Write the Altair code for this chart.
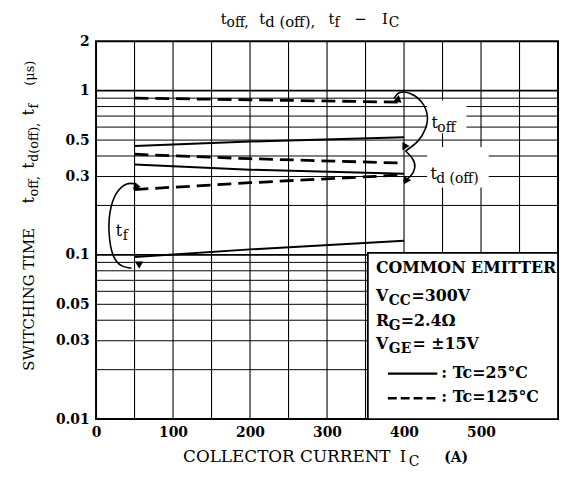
import altair as alt
import pandas as pd

FONT = "DejaVu Serif"
W, H = 467, 382
OX, OY = 97, 39  # page position of plot origin

# ---- data ----
ic = [50, 200, 400]
toff_25 = [0.46, 0.49, 0.52]
toff_125 = [0.90, 0.88, 0.85]
tdoff_25 = [0.355, 0.33, 0.312]
tdoff_125 = [0.41, 0.385, 0.362]
tf_25 = [0.097, 0.108, 0.122]
tf_125 = [0.25, 0.275, 0.307]

x_grid = [50, 100, 150, 200, 250, 300, 350, 400, 450, 500, 550]
y_grid_minor = [0.02, 0.03, 0.04, 0.05, 0.06, 0.07, 0.08, 0.09,
                0.2, 0.3, 0.4, 0.5, 0.6, 0.7, 0.8, 0.9]
y_grid_major = [0.1, 1.0]
x_ticks = [0, 100, 200, 300, 400, 500]
y_ticks = [0.01, 0.03, 0.05, 0.1, 0.3, 0.5, 1, 2]

# annotation arcs (data units)
arc_toff_x = [387, 394.5, 408, 422, 430, 428, 418, 402]
arc_toff_y = [0.895, 0.973, 0.96, 0.863, 0.717, 0.59, 0.493, 0.429]
arc_td_x = [402, 411, 414, 408, 399]
arc_td_y = [0.429, 0.385, 0.34, 0.30, 0.282]
arc_tf_x = [52, 40, 26, 18, 17, 22, 33, 46]
arc_tf_y = [0.27, 0.27, 0.235, 0.18, 0.135, 0.10, 0.086, 0.083]
arrow_x = [392, 401, 403, 52, 56]
arrow_y = [0.88, 0.46, 0.285, 0.262, 0.088]
arrow_angle = [250, 330, 330, 100, 60]

xs = alt.Scale(domain=[0, 600], nice=False, zero=False)
ys = alt.Scale(type="log", domain=[0.01, 2], nice=False)

rows = []
for name, temp, vals in [("toff", "25", toff_25), ("toff", "125", toff_125),
                         ("td", "25", tdoff_25), ("td", "125", tdoff_125),
                         ("tf", "25", tf_25), ("tf", "125", tf_125)]:
    for i, (x, y) in enumerate(zip(ic, vals)):
        rows.append({"curve": name + temp, "temp": temp, "ic": x, "t": y, "i": i})
curves = pd.DataFrame(rows)

xaxis = alt.Axis(values=x_ticks, labelFont=FONT, labelFontWeight="bold", labelFontSize=14,
                 labelColor="black", ticks=False, domain=False, grid=False, title=None,
                 labelPadding=7, labelFlush=False, labelExpr="datum.value")
yaxis = alt.Axis(values=y_ticks, labelFont=FONT, labelFontWeight="bold", labelFontSize=14,
                 labelColor="black", ticks=False, domain=False, grid=False, title=None,
                 labelPadding=7, labelExpr="'' + datum.value", labelFlush=False)

base_axes = alt.Chart(pd.DataFrame({"ic": [0, 600], "t": [0.01, 2]})).mark_point(opacity=0).encode(
    x=alt.X("ic:Q", scale=xs, axis=xaxis),
    y=alt.Y("t:Q", scale=ys, axis=yaxis),
)

vgrid = alt.Chart(pd.DataFrame({"ic": x_grid})).mark_rule(color="black", strokeWidth=1.1).encode(
    x=alt.X("ic:Q", scale=xs), y=alt.value(0), y2=alt.value(H))
hgrid = alt.Chart(pd.DataFrame({"t": y_grid_minor})).mark_rule(color="black", strokeWidth=1.0).encode(
    y=alt.Y("t:Q", scale=ys), x=alt.value(0), x2=alt.value(W))
hgrid2 = alt.Chart(pd.DataFrame({"t": y_grid_major})).mark_rule(color="black", strokeWidth=1.8).encode(
    y=alt.Y("t:Q", scale=ys), x=alt.value(0), x2=alt.value(W))

# white boxes behind labels and legend
boxes = pd.DataFrame({"x1": [430, 430], "x2": [481, 510], "y1": [0.87, 0.454], "y2": [0.55, 0.257]})
label_boxes = alt.Chart(boxes).mark_rect(color="white").encode(
    x=alt.X("x1:Q", scale=xs), x2="x2:Q", y=alt.Y("y1:Q", scale=ys), y2="y2:Q")
legend_box = alt.Chart(pd.DataFrame({"x1": [353], "x2": [600], "y1": [0.01], "y2": [0.103]})).mark_rect(
    fill="white", stroke="black", strokeWidth=1.8).encode(
    x=alt.X("x1:Q", scale=xs), x2="x2:Q", y=alt.Y("y1:Q", scale=ys), y2="y2:Q")

solid = alt.Chart(curves[curves.temp == "25"]).mark_line(color="black", strokeWidth=2).encode(
    x=alt.X("ic:Q", scale=xs), y=alt.Y("t:Q", scale=ys), detail="curve:N", order="i:O")
dashed = alt.Chart(curves[curves.temp == "125"]).mark_line(color="black", strokeWidth=2.8,
                                                           strokeDash=[14, 7]).encode(
    x=alt.X("ic:Q", scale=xs), y=alt.Y("t:Q", scale=ys), detail="curve:N", order="i:O")

arc_rows = []
for name, ax, ay in [("toff", arc_toff_x, arc_toff_y), ("td", arc_td_x, arc_td_y), ("tf", arc_tf_x, arc_tf_y)]:
    for i, (x, y) in enumerate(zip(ax, ay)):
        arc_rows.append({"arc": name, "ic": x, "t": y, "i": i})
arcs = alt.Chart(pd.DataFrame(arc_rows)).mark_line(color="black", strokeWidth=1.6, interpolate="natural").encode(
    x=alt.X("ic:Q", scale=xs), y=alt.Y("t:Q", scale=ys), detail="arc:N", order="i:O")
arrows = alt.Chart(pd.DataFrame({"ic": arrow_x, "t": arrow_y, "a": arrow_angle})).mark_point(
    shape="triangle", filled=True, color="black", size=70, opacity=1).encode(
    x=alt.X("ic:Q", scale=xs), y=alt.Y("t:Q", scale=ys), angle=alt.Angle("a:Q", scale=None))

one = pd.DataFrame({"a": [0]})


def txt(s, px, py, size, weight="normal", angle=0):
    return alt.Chart(one).mark_text(text=s, font=FONT, fontSize=size, fontWeight=weight, angle=angle,
                                    align="left", baseline="alphabetic", color="black").encode(
        x=alt.value(px - OX), y=alt.value(py - OY))


def seg(x1, x2, py, dash=None, sw=2.2):
    kw = {"color": "black", "strokeWidth": sw}
    if dash:
        kw["strokeDash"] = dash
    return alt.Chart(one).mark_rule(**kw).encode(
        x=alt.value(x1 - OX), x2=alt.value(x2 - OX), y=alt.value(py - OY), y2=alt.value(py - OY))


texts = [
    # title
    txt("t", 223, 22, 15), txt("off,", 229, 25, 14),
    txt("t", 262, 22, 15), txt("d (off),", 268, 25, 15),
    txt("t", 332, 22, 15), txt("f", 338, 25, 14),
    txt("−", 358, 22, 15),
    txt("I", 386, 22, 15), txt("C", 393, 25, 14),
    # x axis title
    txt("COLLECTOR CURRENT", 185, 464, 17),
    txt("I", 404, 464, 16), txt("C", 413, 468, 14),
    txt("(A)", 449, 464, 14, "bold"),
    # y axis title (rotated)
    txt("SWITCHING TIME", 34, 372, 15, angle=270),
    txt("t", 34, 203, 16, angle=270), txt("off,", 38, 196, 13, angle=270),
    txt("t", 34, 168, 16, angle=270), txt("d(off),", 38, 161, 13, angle=270),
    txt("t", 34, 114, 16, angle=270), txt("f", 38, 107, 13, angle=270),
    txt("(μs)", 34, 84, 13, angle=270),
    # annotation labels
    txt("t", 436, 127, 16), txt("off", 442, 131, 14),
    txt("t", 435, 178, 16), txt("d (off)", 441, 182, 14),
    txt("t", 117, 236, 16), txt("f", 124, 240, 14),
    # legend
    txt("COMMON EMITTER", 380, 273, 16, "bold"),
    txt("V", 380, 302, 16, "bold"), txt("CC", 393, 306, 14, "bold"), txt("=300V", 416, 302, 16, "bold"),
    txt("R", 380, 327, 16, "bold"), txt("G", 393, 331, 14, "bold"), txt("=2.4Ω", 405, 327, 16, "bold"),
    txt("V", 380, 350, 16, "bold"), txt("GE", 393, 354, 14, "bold"), txt("= ±15V", 417, 350, 16, "bold"),
    seg(392, 442, 375),
    txt(": Tc=25°C", 446, 379, 16, "bold"),
    seg(392, 442, 400, dash=[9, 4], sw=2.6),
    txt(": Tc=125°C", 446, 404, 16, "bold"),
]

chart = alt.layer(
    base_axes, vgrid, hgrid, hgrid2, label_boxes, legend_box, solid, dashed, arcs, arrows, *texts
).properties(
    width=W, height=H,
    autosize=alt.AutoSizeParams(type="none"),
    padding={"left": 89, "top": 31, "right": 2, "bottom": 60},
).configure_view(stroke="black", strokeWidth=2)

chart.save("out.html", embed_options={"renderer": "svg", "actions": False})
